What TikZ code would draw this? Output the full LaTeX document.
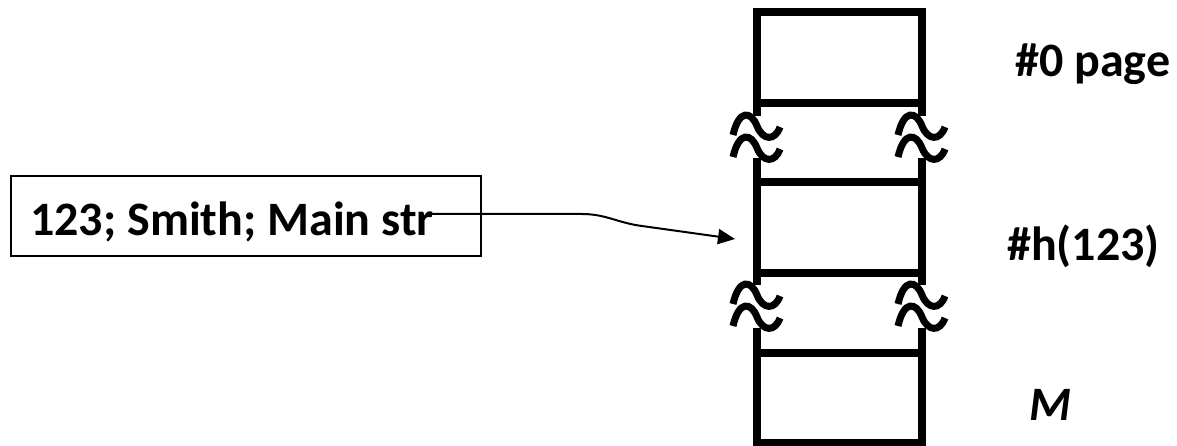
\documentclass[tikz,border=0pt]{standalone}
\usepackage{fontspec}
\setmainfont{Carlito}
\usetikzlibrary{arrows.meta}
\begin{document}
\begin{tikzpicture}[x=1pt,y=-1pt,
  col/.style={line width=7.5pt},
  wave/.style={line width=7pt, line cap=butt},
  lbl/.style={inner sep=0pt, font=\fontsize{48}{56}\selectfont\bfseries, anchor=base west},
  recbox/.style={draw, line width=2.5pt, minimum width=470pt, minimum height=80pt, inner sep=0pt},
  link/.style={line width=2pt, -{Triangle[length=17pt,width=15pt]}},
  tilde/.pic={\draw[wave] (-24,9) .. controls (-18,-17) and (-6,-15) .. (0,0) .. controls (6,15) and (18,15) .. (23,1);}
]
\useasboundingbox (0,0) rectangle (1177,446);
% column
\draw[col] (757,116) -- (757,12) -- (922,12) -- (922,116);
\draw[col] (757,103) -- (922,103);
\draw[col] (757,158) -- (757,285);
\draw[col] (922,158) -- (922,285);
\draw[col] (757,182) -- (922,182);
\draw[col] (757,273) -- (922,273);
\draw[col] (757,328) -- (757,443) -- (922,443) -- (922,328);
\draw[col] (757,353) -- (922,353);
% break marks
\pic at (757,126) {tilde};
\pic at (757,148) {tilde};
\pic at (922,126) {tilde};
\pic at (922,148) {tilde};
\pic at (757,295) {tilde};
\pic at (757,317) {tilde};
\pic at (922,295) {tilde};
\pic at (922,317) {tilde};
% labels
\node[lbl] (t0) at (1015,77) {\#0 page};
\node[lbl] (th) at (1007,261) {\#h(123)};
\node[lbl, font={\fontsize{48}{56}\selectfont\bfseries\itshape}] (tm) at (1029,420) {M};
% record box
\node[recbox] (rec) at (246,216) {};
\node[lbl] (rectext) at (30,236) {123; Smith; Main str};
% arrow
\coordinate (src) at (427,214);
\coordinate (tip) at (735,239);
\draw[link] (src) -- (582,214) .. controls (606,214) and (618,223) .. (642,226) -- (tip);
\end{tikzpicture}
\end{document}
